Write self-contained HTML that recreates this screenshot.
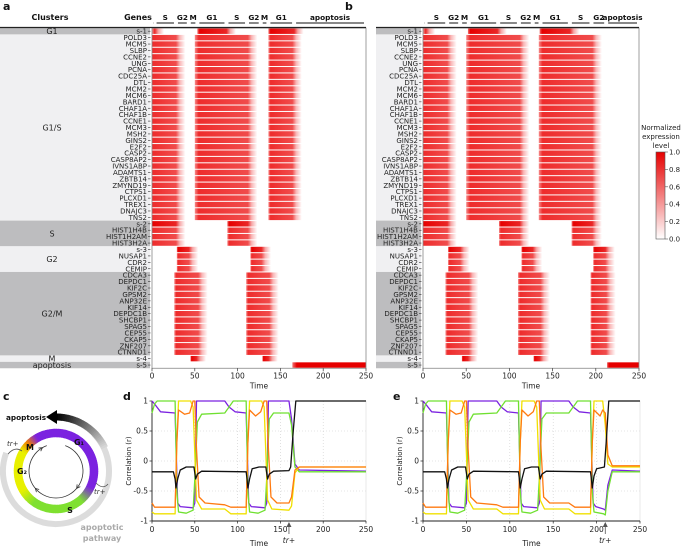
<!DOCTYPE html>
<html><head><meta charset="utf-8">
<style>
html,body{margin:0;padding:0;background:#fff;}
svg{display:block;font-family:"DejaVu Sans","Liberation Sans",sans-serif;}
</style></head>
<body>
<svg id="fig" width="683" height="550" viewBox="0 0 683 550" xmlns="http://www.w3.org/2000/svg">
<defs>
<linearGradient id="cbar" x1="0" y1="1" x2="0" y2="0"><stop offset="0" stop-color="#ffffff"/><stop offset="1" stop-color="#e60000"/></linearGradient>
</defs>
<g id="root"></g>
</svg>
<script>
// ---------- DATA ----------
const geneRows = ["s-1","POLD3","MCM5","SLBP","CCNE2","UNG","PCNA","CDC25A","DTL","MCM2","MCM6","BARD1","CHAF1A","CHAF1B","CCNE1","MCM3","MSH2","GINS2","E2F2","CASP2","CASP8AP2","IVNS1ABP","ADAMTS1","ZBTB14","ZMYND19","CTPS1","PLCXD1","TREX1","DNAJC3","TNS2","s-2","HIST1H4B","HIST1H2AM","HIST3H2A","s-3","NUSAP1","CDR2","CEMIP","CDCA3","DEPDC1","KIF2C","GPSM2","ANP32E","KIF14","DEPDC1B","SHCBP1","SPAG5","CEP55","CKAP5","ZNF207","CTNND1","s-4","s-5"];
const clusterNames = ["G1","G1/S","S","G2","G2/M","M","apoptosis"];
const clusterStart = [0,1,30,34,38,51,52];
const clusterEnd   = [0,29,33,37,50,51,52];
const clusterShade = ["#bdbdbf","#f0f0f2","#bdbdbf","#f0f0f2","#bdbdbf","#f0f0f2","#bdbdbf"];
const exprA = [
  [[0,3],[53,87],[136,166]],
  [[0,28],[50,112],[136,164]],
  [[0,28],[88,112]],
  [[29,43],[115,128]],
  [[26,54],[110,137]],
  [[45,52],[129,136]],
  [[164,250]]
];
const exprB = [
  [[0,3],[52,86],[135,170]],
  [[0,28],[50,112],[134,196]],
  [[0,28],[88,112],[172,196]],
  [[29,43],[114,127],[197,211]],
  [[26,53],[110,136],[194,212]],
  [[45,52],[128,135]],
  [[213,250]]
];
const phaseNamesA = ["S","G2","M","G1","S","G2","M","G1","apoptosis"];
const phaseStartA = [3,28,43,53,87,111,127,136,166];
const phaseEndA   = [28,43,53,87,111,127,136,166,250];
const phaseNamesB = ["S","G2","M","G1","S","G2","M","G1","S","G2","apoptosis"];
const phaseStartB = [3,28,43,53,87,111,127,136,170,195,212];
const phaseEndB   = [28,43,53,87,111,127,136,170,195,212,250];
const cbarTicks = [0,0.2,0.4,0.6,0.8,1.0];
const xTicks = [0,50,100,150,200,250];
const yTicks = [1,0.5,0,-0.5,-1];
const dPurpleT=[0,3,10,27,30,33,48,50,52,85,90,97,110,113,116,132,134,136,160,163,167,172,250];
const dPurpleV=[1,0.95,0.82,0.8,-0.7,-0.76,-0.78,-0.7,1,1,0.9,0.82,0.8,-0.7,-0.76,-0.78,-0.7,1,1,0.7,-0.05,-0.15,-0.17];
const dGreenT=[0,3,6,27,29,31,40,48,50,53,58,85,90,95,110,112,114,124,132,134,137,142,160,163,167,172,250];
const dGreenV=[0.8,0.95,1,1,-0.5,-0.85,-0.87,-0.82,-0.3,0.65,0.78,0.8,0.9,1,1,-0.5,-0.85,-0.87,-0.82,-0.3,0.7,0.8,0.8,0.6,-0.1,-0.18,-0.18];
const dYellowT=[0,3,27,29,31,45,48,52,58,85,92,110,112,114,128,131,135,140,160,163,167,172,250];
const dYellowV=[-0.85,-0.88,-0.88,0.3,1,1,0.9,-0.65,-0.8,-0.8,-0.88,-0.88,0.3,1,1,0.9,-0.65,-0.8,-0.82,-0.75,-0.2,-0.1,-0.1];
const dOrangeT=[0,3,27,29,31,38,44,48,50,52,55,62,85,92,110,112,114,121,127,131,134,136,139,146,160,163,167,172,250];
const dOrangeV=[-0.7,-0.77,-0.77,0.3,0.85,0.78,0.8,1,1,0.2,-0.6,-0.7,-0.73,-0.77,-0.77,0.3,0.85,0.75,0.82,1,1,0.2,-0.6,-0.7,-0.7,-0.6,-0.15,-0.1,-0.1];
const dBlackT=[0,25,27,28,30,33,40,49,50,51,53,58,110,111,112,114,117,125,133,134,135,137,142,160,162,165,168,250];
const dBlackV=[-0.18,-0.18,-0.3,-0.45,-0.3,-0.15,-0.1,-0.1,-0.2,-0.3,-0.22,-0.17,-0.18,-0.3,-0.45,-0.3,-0.13,-0.1,-0.1,-0.2,-0.3,-0.22,-0.17,-0.16,-0.1,0.5,1,1];
const ePurpleT=[0,3,10,27,30,33,48,50,52,85,90,97,110,113,116,132,134,136,168,173,180,193,196,199,208,210,213,218,250];
const ePurpleV=[1,0.95,0.82,0.8,-0.7,-0.76,-0.78,-0.7,1,1,0.9,0.82,0.8,-0.7,-0.76,-0.78,-0.7,1,1,0.9,0.82,0.8,-0.7,-0.76,-0.8,-0.82,-0.4,-0.15,-0.17];
const eGreenT=[0,3,6,27,29,31,40,48,50,53,58,85,90,95,110,112,114,124,132,134,137,142,168,173,178,193,195,197,208,210,213,218,250];
const eGreenV=[0.8,0.95,1,1,-0.5,-0.85,-0.87,-0.82,-0.3,0.65,0.78,0.8,0.9,1,1,-0.5,-0.85,-0.87,-0.82,-0.3,0.7,0.8,0.8,0.9,1,1,-0.5,-0.85,-0.88,-0.9,-0.5,-0.18,-0.18];
const eYellowT=[0,3,27,29,31,45,48,52,58,85,92,110,112,114,128,131,135,140,168,175,193,195,197,207,210,213,218,250];
const eYellowV=[-0.85,-0.88,-0.88,0.3,1,1,0.9,-0.65,-0.8,-0.8,-0.88,-0.88,0.3,1,1,0.9,-0.65,-0.8,-0.8,-0.88,-0.88,0.3,1,1,0.6,-0.05,-0.1,-0.1];
const eOrangeT=[0,3,27,29,31,38,44,48,50,52,55,62,85,92,110,112,114,121,127,131,134,136,139,146,168,175,193,195,197,204,207,210,213,218,250];
const eOrangeV=[-0.7,-0.77,-0.77,0.3,0.85,0.78,0.8,1,1,0.2,-0.6,-0.7,-0.73,-0.77,-0.77,0.3,0.85,0.75,0.82,1,1,0.2,-0.6,-0.7,-0.7,-0.77,-0.77,0.3,0.85,0.75,0.85,0.8,0.1,-0.08,-0.08];
const eBlackT=[0,25,27,28,30,33,40,49,50,51,53,58,110,111,112,114,117,125,133,134,135,137,142,193,194,195,197,200,209,211,214,250];
const eBlackV=[-0.18,-0.18,-0.3,-0.45,-0.3,-0.15,-0.1,-0.1,-0.2,-0.3,-0.22,-0.17,-0.18,-0.3,-0.45,-0.3,-0.13,-0.1,-0.1,-0.2,-0.3,-0.22,-0.17,-0.18,-0.3,-0.45,-0.25,-0.13,-0.1,0.3,1,1];
const triggerD = 160, triggerE = 210;

// ---------- HELPERS ----------
const NS="http://www.w3.org/2000/svg";
const root=document.getElementById('root');
function el(tag,attrs,parent,text){const e=document.createElementNS(NS,tag);for(const k in attrs)e.setAttribute(k,attrs[k]);if(text!==undefined)e.textContent=text;(parent||root).appendChild(e);return e;}
const defs=document.querySelector('defs');
let gid=0;
const ROW0=28, ROWH=6.42;
function rowY(i){return ROW0+i*ROWH;}

function drawHeatmap(x0,x1,labelRight,bandLeft,expr,pNames,pStart,pEnd,showClusters,prefix){
  const sx=t=>x0+(x1-x0)*t/250;
  const g=el('g',{});
  
  
  for(let c=0;c<clusterNames.length;c++){
    const y=rowY(clusterStart[c]), h=(clusterEnd[c]-clusterStart[c]+1)*ROWH;
    const b=el('rect',{x:bandLeft,y:y,width:labelRight-bandLeft,height:h,fill:clusterShade[c]},g);
    
    
    if(showClusters){
      const t=el('text',{x:52,y:y+h/2+3,'font-size':8,'text-anchor':'middle',fill:'#222'},g,clusterNames[c]);
      
      
    }
  }
  for(let c=0;c<clusterNames.length;c++){
    for(let r=clusterStart[c];r<=clusterEnd[c];r++){
      const isS=geneRows[r].startsWith('s-');
      const col=isS?'#e60000':'#ee2c2c';
      for(const iv of expr[c]){
        const id='hg'+(gid++);
        const a=sx(iv[0]), bEnd=Math.min(sx(iv[1]+11),x1), w=bEnd-a;
        const solid=Math.max(0,(sx(iv[1])-a)/w);
        const lg=el('linearGradient',{id:id,x1:0,y1:0,x2:1,y2:0},defs);
        const fi=iv[0]>0?Math.min(0.06,solid*0.2):0;
        const end=iv[1]>=250;
        el('stop',{offset:0,'stop-color':col,'stop-opacity':iv[0]>0?0.55:(iv[1]<5?0.5:1)},lg);
        el('stop',{offset:fi,'stop-color':col,'stop-opacity':iv[1]<5?0.4:1},lg);
        el('stop',{offset:Math.min(solid,1),'stop-color':col,'stop-opacity':end?1:0.85},lg);
        el('stop',{offset:end?1:Math.min(solid,1)+(1-solid)*0.4,'stop-color':col,'stop-opacity':end?1:0.35},lg);
        el('stop',{offset:1,'stop-color':col,'stop-opacity':end?1:0},lg);
        const cell=el('rect',{x:a,y:rowY(r)+0.5,width:w,height:ROWH-1,fill:'url(#'+id+')'},g);
        
        
      }
      const lab=el('text',{x:labelRight-3,y:rowY(r)+ROWH/2+2.5,'font-size':7,'text-anchor':'end',fill:'#222'},g,geneRows[r]);
      
      
      el('line',{x1:labelRight-2,x2:labelRight+0.5,y1:rowY(r)+ROWH/2,y2:rowY(r)+ROWH/2,stroke:'#333','stroke-width':0.6},g);
    }
  }
  const fr=el('rect',{x:x0,y:ROW0,width:x1-x0,height:53*ROWH,fill:'none',stroke:'#888','stroke-width':0.8},g);
  
  
  el('line',{x1:bandLeft,x2:x1,y1:ROW0-0.5,y2:ROW0-0.5,stroke:'#222','stroke-width':1.2},g);
  const yb=ROW0+53*ROWH;
  for(const t of xTicks){
    el('line',{x1:sx(t),x2:sx(t),y1:yb,y2:yb+3,stroke:'#333','stroke-width':0.7},g);
    const tl=el('text',{x:sx(t),y:yb+10,'font-size':7.5,'text-anchor':'middle',fill:'#222'},g,t);
    
    
  }
  const xt=el('text',{x:(x0+x1)/2,y:yb+20,'font-size':7.5,'text-anchor':'middle',fill:'#222'},g,'Time');
  
  
  el('line',{x1:sx(0)+1,x2:sx(1.5),y1:23,y2:23,stroke:'#111','stroke-width':1},g);
  for(let i=0;i<pNames.length;i++){
    const a=sx(pStart[i]), b=sx(pEnd[i]);
    const ph=el('text',{x:(a+b)/2,y:20,'font-size':7.3,'font-weight':'bold','text-anchor':'middle',fill:'#111'},g,pNames[i]);
    
    
    el('line',{x1:a+2,x2:b-2,y1:23,y2:23,stroke:'#111','stroke-width':1},g);
  }
}
drawHeatmap(152,366,150,0,exprA,phaseNamesA,phaseStartA,phaseEndA,true,'panel-a');
drawHeatmap(423,639,421,376,exprB,phaseNamesB,phaseStartB,phaseEndB,false,'panel-b');

function txt(x,y,s,attrs,name){const t=el('text',Object.assign({x:x,y:y,fill:'#111'},attrs),root,s);return t;}
txt(50,20,'Clusters',{'font-size':8,'font-weight':'bold','text-anchor':'middle'},'clusters-header');
txt(138,20,'Genes',{'font-size':8,'font-weight':'bold','text-anchor':'middle'},'genes-header');
txt(3,10,'a',{'font-size':11,'font-weight':'bold'},'panel-letter-a');
txt(345,10,'b',{'font-size':11,'font-weight':'bold'},'panel-letter-b');
txt(3,400,'c',{'font-size':11,'font-weight':'bold'},'panel-letter-c');
txt(123,400,'d',{'font-size':11,'font-weight':'bold'},'panel-letter-d');
txt(393,400,'e',{'font-size':11,'font-weight':'bold'},'panel-letter-e');

const cb=el('rect',{x:656,y:152,width:9,height:87,fill:'url(#cbar)',stroke:'#555','stroke-width':0.6});


txt(661,130,'Normalized',{'font-size':7,'text-anchor':'middle',fill:'#222'},'colorbar-title');
txt(661,139,'expression',{'font-size':7,'text-anchor':'middle',fill:'#222'},'colorbar-title');
txt(661,148,'level',{'font-size':7,'text-anchor':'middle',fill:'#222'},'colorbar-title');
for(const v of cbarTicks){
  const y=239-87*v;
  el('line',{x1:665,x2:668,y1:y,y2:y,stroke:'#555','stroke-width':0.6});
  txt(669,y+2.5,v.toFixed(1),{'font-size':7,fill:'#222'},'colorbar-tick-label');
}

function drawCorr(x0,x1,series,trig,prefix){
  const y0=401,y1=521;
  const sx=t=>x0+(x1-x0)*t/250, sy=v=>y1-(v+1)/2*(y1-y0);
  const g=el('g',{});
  
  
  for(const t of xTicks.slice(1,-1)) el('line',{x1:sx(t),x2:sx(t),y1:y0,y2:y1,stroke:'#ccc','stroke-width':0.6,'stroke-dasharray':'1,2'},g);
  for(const v of yTicks.slice(1,-1)) el('line',{x1:x0,x2:x1,y1:sy(v),y2:sy(v),stroke:'#ccc','stroke-width':0.6,'stroke-dasharray':'1,2'},g);
  el('rect',{x:x0,y:y0,width:x1-x0,height:y1-y0,fill:'none',stroke:'#ddd','stroke-width':0.6},g);
  el('line',{x1:x0,x2:x0,y1:y0,y2:y1,stroke:'#222','stroke-width':0.9},g);
  el('line',{x1:x0,x2:x1,y1:y1,y2:y1,stroke:'#222','stroke-width':0.9},g);
  for(const t of xTicks){
    el('line',{x1:sx(t),x2:sx(t),y1:y1,y2:y1+2.5,stroke:'#222','stroke-width':0.7},g);
    const l=el('text',{x:sx(t),y:y1+11,'font-size':7.5,'text-anchor':'middle',fill:'#222'},g,t);
    
    
  }
  for(const v of yTicks){
    el('line',{x1:x0-2.5,x2:x0,y1:sy(v),y2:sy(v),stroke:'#222','stroke-width':0.7},g);
    const l=el('text',{x:x0-4,y:sy(v)+2.5,'font-size':7.5,'text-anchor':'end',fill:'#222'},g,v);
    
    
  }
  const yt=el('text',{x:0,y:0,'font-size':7,'text-anchor':'middle',fill:'#222',transform:`translate(${x0-21},${(y0+y1)/2}) rotate(-90)`},g,'Correlation (r)');
  
  
  const xt=el('text',{x:(x0+x1)/2,y:y1+25,'font-size':7.5,'text-anchor':'middle',fill:'#222'},g,'Time');
  
  
  for(const s of series){
    const d=s.t.map((t,i)=>(i?'L':'M')+sx(t).toFixed(2)+','+sy(s.v[i]).toFixed(2)).join('');
    const p=el('path',{d:d,fill:'none',stroke:s.c,'stroke-width':1.3,'stroke-linejoin':'round'},g);
    
    
  }
  const tx=sx(trig);
  el('path',{d:`M${tx},${y1+1}L${tx-2.5},${y1+6}L${tx+2.5},${y1+6}Z`,fill:'#555'},g);
  el('line',{x1:tx,x2:tx,y1:y1+6,y2:y1+13,stroke:'#555','stroke-width':0.8},g);
  const tl=el('text',{x:tx,y:y1+22,'font-size':7.5,'font-style':'italic','text-anchor':'middle',fill:'#222'},g,'tr+');
  
  
}
drawCorr(152,366,[
  {n:'g1',c:'#7b22e0',t:dPurpleT,v:dPurpleV},
  {n:'s',c:'#6fe030',t:dGreenT,v:dGreenV},
  {n:'g2',c:'#f0e000',t:dYellowT,v:dYellowV},
  {n:'m',c:'#ff7a10',t:dOrangeT,v:dOrangeV},
  {n:'apoptosis',c:'#111',t:dBlackT,v:dBlackV}],triggerD,'panel-d');
drawCorr(423,640,[
  {n:'g1',c:'#7b22e0',t:ePurpleT,v:ePurpleV},
  {n:'s',c:'#6fe030',t:eGreenT,v:eGreenV},
  {n:'g2',c:'#f0e000',t:eYellowT,v:eYellowV},
  {n:'m',c:'#ff7a10',t:eOrangeT,v:eOrangeV},
  {n:'apoptosis',c:'#111',t:eBlackT,v:eBlackV}],triggerE,'panel-e');

(function(){
  const cx=56,cy=471;
  const g=el('g',{});
  
  
  const P=(r,a)=>[cx+r*Math.sin(a*Math.PI/180),cy-r*Math.cos(a*Math.PI/180)];
  function arc(r,a0,a1,attrs){const p0=P(r,a0),p1=P(r,a1);const large=(a1-a0)>180?1:0;return el('path',Object.assign({d:`M${p0[0]},${p0[1]}A${r},${r} 0 ${large} 1 ${p1[0]},${p1[1]}`,fill:'none'},attrs),g);}
  const gp=arc(53,45,290,{stroke:'#dcdcdc','stroke-width':6});
  
  
  for(let a=0;a<64;a+=2){const f=a/64;const c=Math.round(f*220);arc(54,a,a+2.5,{stroke:`rgb(${c},${c},${c})`,'stroke-width':7});}
  const ah=P(54,0);
  const arrow=el('path',{d:`M${ah[0]-10},${ah[1]}L${ah[0]+1},${ah[1]-7}L${ah[0]+1},${ah[1]+7}Z`,fill:'#000'},g);
  
  
  const stops=[[0,'#7b22e0'],[115,'#7b22e0'],[140,'#7fe030'],[215,'#7fe030'],[240,'#e8f000'],[300,'#e8f000'],[315,'#f08000'],[330,'#7b22e0'],[360,'#7b22e0']];
  function colAt(a){for(let i=0;i<stops.length-1;i++){if(a>=stops[i][0]&&a<=stops[i+1][0]){const f=(a-stops[i][0])/(stops[i+1][0]-stops[i][0]);const h1=stops[i][1],h2=stops[i+1][1];const c=k=>Math.round(parseInt(h1.substr(k,2),16)*(1-f)+parseInt(h2.substr(k,2),16)*f);return `rgb(${c(1)},${c(3)},${c(5)})`;}}return '#7b22e0';}
  for(let a=0;a<360;a+=3) arc(38,a,a+3.6,{stroke:colAt(a+1.5),'stroke-width':8.5});
  arc(27,20,340,{stroke:'#333','stroke-width':0.8});
  for(const a of [130,230,330]){const p=P(27,a);const q=P(27,a-10);const ang=Math.atan2(p[1]-q[1],p[0]-q[0]);
    el('path',{d:`M${p[0]},${p[1]}l${-4*Math.cos(ang-0.5)},${-4*Math.sin(ang-0.5)}M${p[0]},${p[1]}l${-4*Math.cos(ang+0.5)},${-4*Math.sin(ang+0.5)}`,stroke:'#333','stroke-width':0.8,fill:'none'},g);}
  txt(79,445,'G\u2081',{'font-size':8,'font-weight':'bold','text-anchor':'middle'},'g1-label');
  txt(70,513,'S',{'font-size':8,'font-weight':'bold','text-anchor':'middle'},'s-label');
  txt(22,474,'G\u2082',{'font-size':8,'font-weight':'bold','text-anchor':'middle'},'g2-label');
  txt(30,450,'M',{'font-size':8,'font-weight':'bold','text-anchor':'middle'},'m-label');
  txt(6,420,'apoptosis',{'font-size':7.3,'font-weight':'bold'},'apoptosis-label');
  txt(7,446,'tr+',{'font-size':7,'font-style':'italic',fill:'#333'},'tr-plus-label-1');
  txt(94,494,'tr+',{'font-size':7,'font-style':'italic',fill:'#333'},'tr-plus-label-2');
  el('path',{d:'M8,454 Q15,446 22,451',stroke:'#555','stroke-width':0.8,fill:'none'},g);
  el('path',{d:'M96,483 Q103,490 108,484',stroke:'#555','stroke-width':0.8,fill:'none'},g);
  txt(102,530,'apoptotic',{'font-size':8,'font-weight':'bold','text-anchor':'middle',fill:'#aaa'},'apoptotic-pathway-label');
  txt(102,541,'pathway',{'font-size':8,'font-weight':'bold','text-anchor':'middle',fill:'#aaa'},'apoptotic-pathway-label');
})();
</script>
</body></html>
